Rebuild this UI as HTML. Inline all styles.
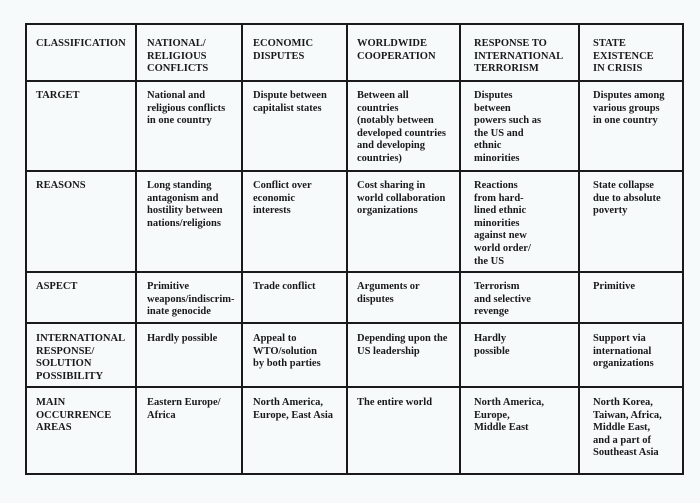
<!DOCTYPE html>
<html><head><style>
body{margin:0;width:700px;height:501px;background:#f6fafb;position:relative;overflow:hidden;font-family:"Liberation Serif",serif;font-weight:bold;font-size:10.5px;line-height:12.6px;color:#1a1a1a}
.h{position:absolute;height:2px;background:#1a1a1a}
.v{position:absolute;width:2px;background:#1a1a1a}
.t{position:absolute;white-space:pre}
.w{position:absolute;left:0;top:2px;width:700px;height:501px}
</style></head><body>
<div class="h" style="left:25px;top:23px;width:659px"></div>
<div class="h" style="left:25px;top:80px;width:659px"></div>
<div class="h" style="left:25px;top:170px;width:659px"></div>
<div class="h" style="left:25px;top:271px;width:659px"></div>
<div class="h" style="left:25px;top:322px;width:659px"></div>
<div class="h" style="left:25px;top:386px;width:659px"></div>
<div class="h" style="left:25px;top:473px;width:659px"></div>
<div class="v" style="left:25px;top:23px;height:452px"></div>
<div class="v" style="left:135px;top:23px;height:452px"></div>
<div class="v" style="left:241px;top:23px;height:452px"></div>
<div class="v" style="left:459px;top:23px;height:452px"></div>
<div class="v" style="left:578px;top:23px;height:452px"></div>
<div class="v" style="left:682px;top:23px;height:452px"></div>
<div class="v" style="left:346px;top:23px;height:452px;width:1.5px"></div>
<div class="w">
<div class="t" style="left:36px;top:36px">CLASSIFICATION</div>
<div class="t" style="left:147px;top:36px">NATIONAL/
RELIGIOUS
CONFLICTS</div>
<div class="t" style="left:253px;top:36px">ECONOMIC
DISPUTES</div>
<div class="t" style="left:357px;top:36px">WORLDWIDE
COOPERATION</div>
<div class="t" style="left:474px;top:36px">RESPONSE TO
INTERNATIONAL
TERRORISM</div>
<div class="t" style="left:593px;top:36px">STATE
EXISTENCE
IN CRISIS</div>

<div class="t" style="left:36px;top:88px">TARGET</div>
<div class="t" style="left:147px;top:88px">National and
religious conflicts
in one country</div>
<div class="t" style="left:253px;top:88px">Dispute between
capitalist states</div>
<div class="t" style="left:357px;top:88px">Between all
countries
(notably between
developed countries
and developing
countries)</div>
<div class="t" style="left:474px;top:88px">Disputes
between
powers such as
the US and
ethnic
minorities</div>
<div class="t" style="left:593px;top:88px">Disputes among
various groups
in one country</div>

<div class="t" style="left:36px;top:178px">REASONS</div>
<div class="t" style="left:147px;top:178px">Long standing
antagonism and
hostility between
nations/religions</div>
<div class="t" style="left:253px;top:178px">Conflict over
economic
interests</div>
<div class="t" style="left:357px;top:178px">Cost sharing in
world collaboration
organizations</div>
<div class="t" style="left:474px;top:178px">Reactions
from hard-
lined ethnic
minorities
against new
world order/
the US</div>
<div class="t" style="left:593px;top:178px">State collapse
due to absolute
poverty</div>

<div class="t" style="left:36px;top:279px">ASPECT</div>
<div class="t" style="left:147px;top:279px">Primitive
weapons/indiscrim-
inate genocide</div>
<div class="t" style="left:253px;top:279px">Trade conflict</div>
<div class="t" style="left:357px;top:279px">Arguments or
disputes</div>
<div class="t" style="left:474px;top:279px">Terrorism
and selective
revenge</div>
<div class="t" style="left:593px;top:279px">Primitive</div>

<div class="t" style="left:36px;top:331px">INTERNATIONAL
RESPONSE/
SOLUTION
POSSIBILITY</div>
<div class="t" style="left:147px;top:331px">Hardly possible</div>
<div class="t" style="left:253px;top:331px">Appeal to
WTO/solution
by both parties</div>
<div class="t" style="left:357px;top:331px">Depending upon the
US leadership</div>
<div class="t" style="left:474px;top:331px">Hardly
possible</div>
<div class="t" style="left:593px;top:331px">Support via
international
organizations</div>

<div class="t" style="left:36px;top:395px">MAIN
OCCURRENCE
AREAS</div>
<div class="t" style="left:147px;top:395px">Eastern Europe/
Africa</div>
<div class="t" style="left:253px;top:395px">North America,
Europe, East Asia</div>
<div class="t" style="left:357px;top:395px">The entire world</div>
<div class="t" style="left:474px;top:395px">North America,
Europe,
Middle East</div>
<div class="t" style="left:593px;top:395px">North Korea,
Taiwan, Africa,
Middle East,
and a part of
Southeast Asia</div>
</div>
</body></html>
